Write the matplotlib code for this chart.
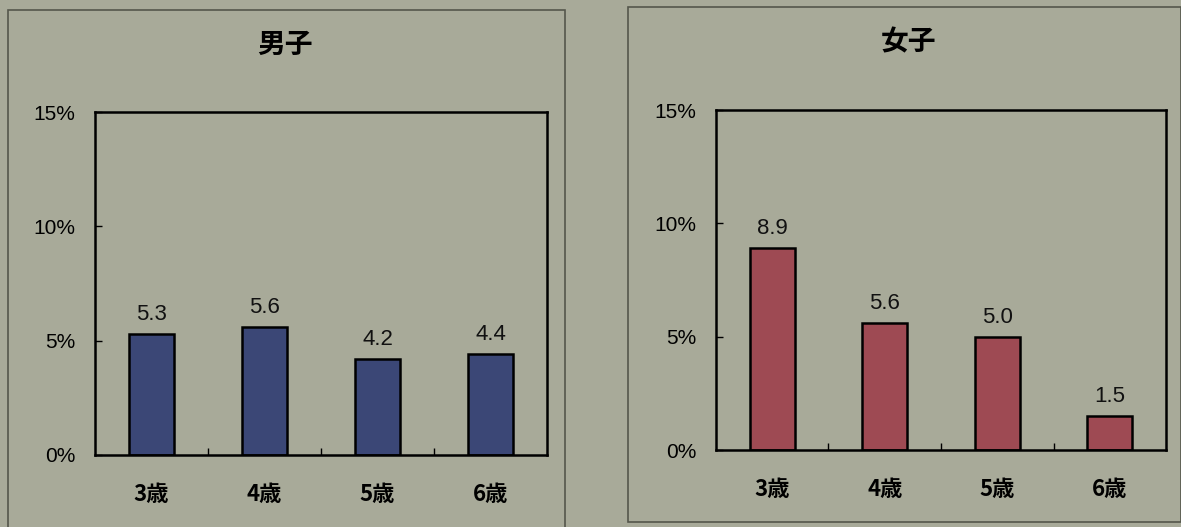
import matplotlib
matplotlib.use('Agg')
import matplotlib.pyplot as plt
from matplotlib.patches import Rectangle
import numpy as np

plt.rcParams['font.family'] = ['Noto Sans CJK JP', 'DejaVu Sans']

ages = ['3歳', '4歳', '5歳', '6歳']
boys = [5.3, 5.6, 4.2, 4.4]
girls = [8.9, 5.6, 5.0, 1.5]
yticks = [0, 5, 10, 15]
ytick_labels = ['0%', '5%', '10%', '15%']

bg = '#a8aa99'
W, H = 1181, 527
fig = plt.figure(figsize=(W / 100, H / 100), dpi=100, facecolor=bg)

# panel frames (pixel boxes: left, top, right, bottom)
frames = [(8, 10, 565, 530), (628, 7, 1181, 522)]
for l, t, r, b in frames:
    fig.patches.append(Rectangle((l / W, 1 - b / H), (r - l) / W, (b - t) / H,
                                 transform=fig.transFigure, fill=False,
                                 edgecolor='#55574c', lw=1.2))

panels = [
    ('男子', boys, '#3b4776', (95, 112, 547, 455), 285, 45),
    ('女子', girls, '#9e4a53', (716, 110, 1166, 450), 908, 42),
]

for title, vals, color, (l, t, r, b), tx, ty in panels:
    ax = fig.add_axes([l / W, 1 - b / H, (r - l) / W, (b - t) / H])
    ax.set_facecolor(bg)
    x = np.arange(len(ages))
    ax.bar(x, vals, width=0.4, color=color, edgecolor='black', linewidth=1.8)
    for xi, v in zip(x, vals):
        ax.text(xi, v + 0.4, f'{v:.1f}', ha='center', va='bottom', fontsize=16,
                family=['Liberation Sans', 'DejaVu Sans'], color='#111111')
    ax.set_xlim(-0.5, len(ages) - 0.5)
    ax.set_ylim(0, 15)
    ax.set_yticks(yticks)
    ax.set_yticklabels(ytick_labels, fontsize=15, family=['Liberation Sans', 'DejaVu Sans'])
    ax.set_xticks(x)
    ax.set_xticklabels(ages, fontsize=16, fontweight='bold')
    ax.tick_params(axis='x', length=0, pad=20)
    ax.set_xticks(x[:-1] + 0.5, minor=True)
    ax.tick_params(axis='x', which='minor', direction='in', length=5, width=1)
    ax.tick_params(axis='y', direction='in', length=5, width=1, pad=14)
    for s in ax.spines.values():
        s.set_linewidth(1.8)
        s.set_color('black')
    fig.text(tx / W, 1 - ty / H, title, ha='center', va='center', fontsize=20,
             fontweight='bold')

fig.savefig('out.png', dpi=100, facecolor=bg)
